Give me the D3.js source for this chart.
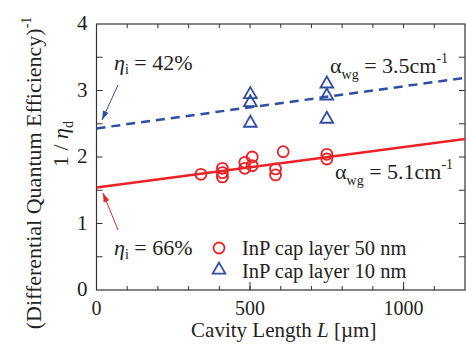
<!DOCTYPE html>
<html>
<head>
<meta charset="utf-8">
<script src="https://cdn.jsdelivr.net/npm/d3@7"></script>
<style>
  body { margin: 0; background: #fff; }
  text { font-family: "Liberation Serif", "DejaVu Serif", serif; fill: #231f20; }
</style>
</head>
<body>
<svg id="chart" width="466" height="354"></svg>
<script>
// measured points, cavity length (um) vs 1/eta_d
const capLen50 = [340, 410, 410, 410, 483, 483, 507, 507, 583, 583, 608, 750, 750];
const capVal50 = [1.74, 1.83, 1.765, 1.70, 1.92, 1.83, 2.00, 1.87, 1.82, 1.73, 2.08, 2.04, 1.97];
const capLen10 = [501, 501, 501, 750, 750, 750];
const capVal10 = [2.94, 2.82, 2.51, 3.10, 2.92, 2.57];

// linear fits (end points)
const fitLen = [0, 1200];
const fit50 = [1.54, 2.27];
const fit10 = [2.43, 3.19];

const xTicks = [0, 500, 1000];
const yTicks = [0, 1, 2, 3, 4];

const red = "#ec2227";
const blue = "#2f4ea3";

const margin = { top: 24, right: 1, bottom: 64, left: 96.5 };
const width = 466 - margin.left - margin.right;
const height = 354 - margin.top - margin.bottom;

const svg = d3.select("svg#chart");
const g = svg.append("g")
  .attr("transform", "translate(" + margin.left + "," + margin.top + ")");

const x = d3.scaleLinear().domain([0, 1200]).range([0, width]);
const y = d3.scaleLinear().domain([0, 4]).range([height, 0]);

// frame
g.append("rect")
  .attr("width", width).attr("height", height)
  .attr("fill", "none").attr("stroke", "#333").attr("stroke-width", 1.2);

// ticks (inward, mirrored)
function tickLines(sel, vals, len, horiz, side) {
  sel.selectAll(null).data(vals).enter().append("line")
    .attr("x1", d => horiz ? x(d) : (side ? width : 0))
    .attr("x2", d => horiz ? x(d) : (side ? width - len : len))
    .attr("y1", d => horiz ? (side ? 0 : height) : y(d))
    .attr("y2", d => horiz ? (side ? len : height - len) : y(d))
    .attr("stroke", "#333").attr("stroke-width", 1);
}
const xMinor = d3.range(100, 1200, 100);
const yMinor = d3.range(0.5, 4, 0.5);
tickLines(g, xMinor, 4, true, false);
tickLines(g, [500, 1000], 8, true, false);
tickLines(g, xMinor, 4, true, true);
tickLines(g, yMinor, 6, false, false);
tickLines(g, yMinor, 6, false, true);

// tick labels
g.selectAll(".xl").data(xTicks).enter().append("text")
  .attr("x", d => x(d)).attr("y", height + 25)
  .attr("text-anchor", "middle").attr("font-size", 20)
  .text(d => d);
g.selectAll(".yl").data(yTicks).enter().append("text")
  .attr("x", -9).attr("y", d => y(d) + 6)
  .attr("text-anchor", "end").attr("font-size", 21)
  .text(d => d);

// axis titles
const xt = g.append("text").attr("x", width / 2 + 3).attr("y", height + 47)
  .attr("text-anchor", "middle").attr("font-size", 21);
xt.append("tspan").text("Cavity Length ");
xt.append("tspan").attr("font-style", "italic").text("L");
xt.append("tspan").text(" [\u00b5m]");

const yt1 = svg.append("text")
  .attr("transform", "translate(41,173) rotate(-90)")
  .attr("text-anchor", "middle").attr("font-size", 22);
yt1.append("tspan").text("(Differential Quantum Efficiency)");
yt1.append("tspan").attr("font-size", 14).attr("dy", -10).text("-1");
const yt2 = svg.append("text")
  .attr("transform", "translate(68,144) rotate(-90)")
  .attr("text-anchor", "middle").attr("font-size", 22);
yt2.append("tspan").text("1 / ");
yt2.append("tspan").attr("font-style", "italic").text("\u03b7");
yt2.append("tspan").attr("font-size", 14).attr("dy", 5).text("d");

// clip for lines
svg.append("clipPath").attr("id", "clip").append("rect")
  .attr("width", width).attr("height", height);

const line = d3.line().x(d => x(d[0])).y(d => y(d[1]));
g.append("path").datum(d3.zip(fitLen, fit50))
  .attr("clip-path", "url(#clip)")
  .attr("d", line).attr("fill", "none").attr("stroke", red).attr("stroke-width", 2.5);
g.append("path").datum(d3.zip(fitLen, fit10))
  .attr("clip-path", "url(#clip)")
  .attr("d", line).attr("fill", "none").attr("stroke", blue)
  .attr("stroke-width", 2.5).attr("stroke-dasharray", "9,6");

// markers
g.selectAll(".c50").data(d3.zip(capLen50, capVal50)).enter().append("circle")
  .attr("cx", d => x(d[0])).attr("cy", d => y(d[1])).attr("r", 5.5)
  .attr("fill", "none").attr("stroke", red).attr("stroke-width", 1.8);
const tri = d3.symbol().type(d3.symbolTriangle).size(70);
g.selectAll(".t10").data(d3.zip(capLen10, capVal10)).enter().append("path")
  .attr("d", tri)
  .attr("transform", d => "translate(" + x(d[0]) + "," + y(d[1]) + ")")
  .attr("fill", "none").attr("stroke", blue).attr("stroke-width", 1.8);

// annotations
function etaLabel(px, py, val) {
  const t = svg.append("text").attr("x", px).attr("y", py).attr("font-size", 22);
  t.append("tspan").attr("font-style", "italic").text("\u03b7");
  t.append("tspan").attr("font-size", 14).attr("dy", 4).text("i");
  t.append("tspan").attr("dy", -4).text(" = " + val);
}
etaLabel(114, 70, "42%");
etaLabel(114, 255, "66%");

function arrow(x1, y1, x2, y2, col) {
  svg.append("line").attr("x1", x1).attr("y1", y1).attr("x2", x2).attr("y2", y2)
    .attr("stroke", col).attr("stroke-width", 1);
  const a = Math.atan2(y2 - y1, x2 - x1);
  const L = 9, w = 3;
  const bx = x2 - L * Math.cos(a), by = y2 - L * Math.sin(a);
  svg.append("path")
    .attr("d", "M" + x2 + "," + y2 +
      "L" + (bx + w * Math.sin(a)) + "," + (by - w * Math.cos(a)) +
      "L" + (bx - w * Math.sin(a)) + "," + (by + w * Math.cos(a)) + "Z")
    .attr("fill", col);
}
arrow(118, 85, 102, 120, blue);
arrow(118, 230, 103, 193, red);

function alphaLabel(px, py, val) {
  const t = svg.append("text").attr("x", px).attr("y", py).attr("font-size", 22);
  t.append("tspan").text("\u03b1");
  t.append("tspan").attr("font-size", 14).attr("dy", 6).text("wg");
  t.append("tspan").attr("dy", -6).text(" =  " + val + "cm");
  t.append("tspan").attr("font-size", 14).attr("dy", -10).text("-1");
}
alphaLabel(330, 73, "3.5");
alphaLabel(335, 179, "5.1");

// legend
svg.append("circle").attr("cx", 219).attr("cy", 248).attr("r", 5.5)
  .attr("fill", "none").attr("stroke", red).attr("stroke-width", 1.8);
svg.append("path").attr("d", tri).attr("transform", "translate(219,270)")
  .attr("fill", "none").attr("stroke", blue).attr("stroke-width", 1.8);
svg.append("text").attr("x", 242).attr("y", 255).attr("font-size", 20.5)
  .text("InP cap layer 50 nm");
svg.append("text").attr("x", 242).attr("y", 278).attr("font-size", 20.5)
  .text("InP cap layer 10 nm");
</script>
</body>
</html>
